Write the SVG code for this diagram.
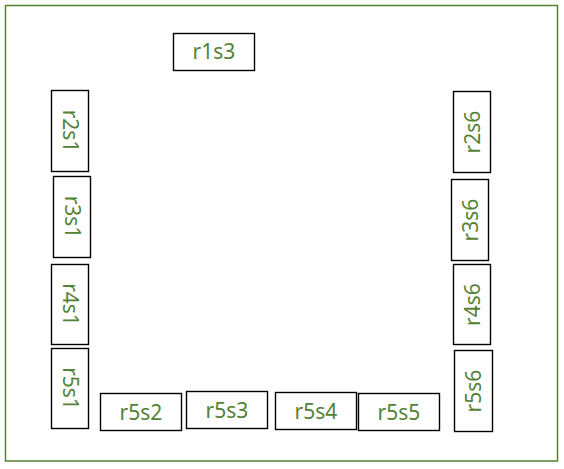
<svg xmlns="http://www.w3.org/2000/svg" width="564" height="469" viewBox="0 0 564 469">
<style>
.frame{fill:#fff;stroke:#548235;stroke-width:1.5}
.box{fill:#fff;stroke:#000;stroke-width:1.4}
.lbl{font-family:"Noto Sans","Liberation Sans",sans-serif;font-size:21px;fill:#548235;text-anchor:middle}
</style>
<rect x="0" y="0" width="564" height="469" fill="#fff"/>
<rect class="frame" x="5.5" y="5.5" width="552" height="455.5"/>
<g id="connectors"></g>
<g id="r1s3"><rect class="box" x="173.5" y="33.5" width="81" height="37"/><text class="lbl" x="214" y="59.3">r1s3</text></g>
<g id="r2s1"><rect class="box" x="51.5" y="90.5" width="37" height="81"/><text class="lbl" transform="translate(70,131) rotate(90)" x="0" y="7.5">r2s1</text></g>
<g id="r3s1"><rect class="box" x="53.5" y="176.5" width="37" height="81"/><text class="lbl" transform="translate(72,217) rotate(90)" x="0" y="7.5">r3s1</text></g>
<g id="r4s1"><rect class="box" x="51.5" y="264.5" width="37" height="80"/><text class="lbl" transform="translate(70,304.5) rotate(90)" x="0" y="7.5">r4s1</text></g>
<g id="r5s1"><rect class="box" x="51.5" y="348.5" width="37" height="80"/><text class="lbl" transform="translate(70,388.5) rotate(90)" x="0" y="7.5">r5s1</text></g>
<g id="r5s2"><rect class="box" x="100.5" y="393.5" width="81" height="37"/><text class="lbl" x="141" y="419.5">r5s2</text></g>
<g id="r5s3"><rect class="box" x="186.5" y="391.5" width="81" height="37"/><text class="lbl" x="227" y="417.5">r5s3</text></g>
<g id="r5s4"><rect class="box" x="275.5" y="392.5" width="81" height="37"/><text class="lbl" x="316" y="418.5">r5s4</text></g>
<g id="r5s5"><rect class="box" x="358.5" y="393.5" width="81" height="37"/><text class="lbl" x="399" y="419.5">r5s5</text></g>
<g id="r2s6"><rect class="box" x="453.5" y="91.5" width="37" height="81"/><text class="lbl" transform="translate(472,132) rotate(-90)" x="0" y="7.5">r2s6</text></g>
<g id="r3s6"><rect class="box" x="451.5" y="179.5" width="37" height="81"/><text class="lbl" transform="translate(470,220) rotate(-90)" x="0" y="7.5">r3s6</text></g>
<g id="r4s6"><rect class="box" x="453.5" y="264.5" width="37" height="80"/><text class="lbl" transform="translate(472,304.5) rotate(-90)" x="0" y="7.5">r4s6</text></g>
<g id="r5s6"><rect class="box" x="454.5" y="350.5" width="38" height="81"/><text class="lbl" transform="translate(473.5,391) rotate(-90)" x="0" y="7.5">r5s6</text></g>
</svg>
